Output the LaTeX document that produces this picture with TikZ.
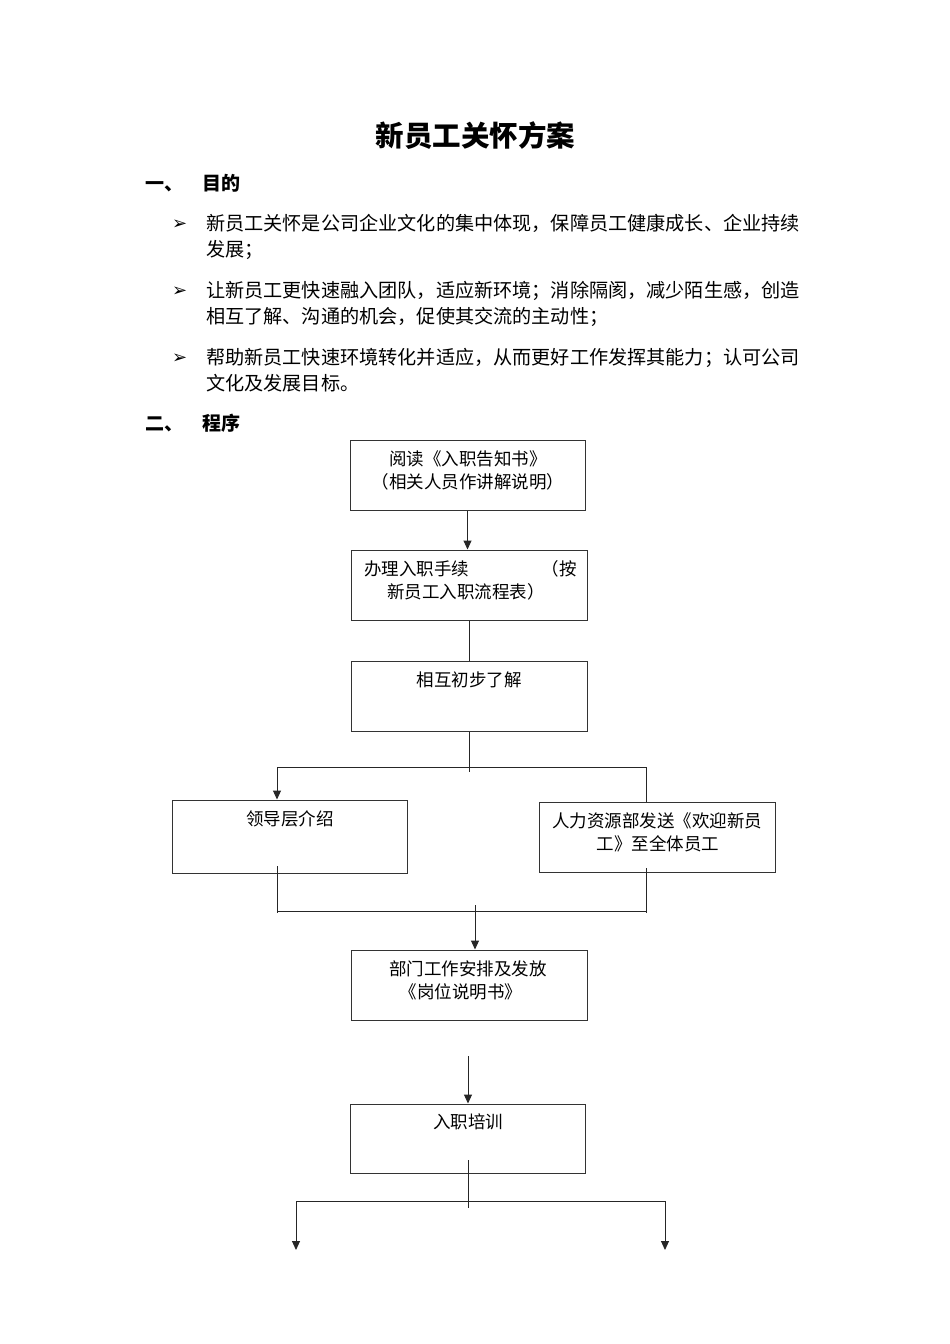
\documentclass[tikz,border=0pt]{standalone}
\usepackage{fontspec}
\newfontfamily\cjk{Noto Sans CJK SC}
\newfontfamily\dejavu{DejaVu Sans}
\usetikzlibrary{arrows.meta}
\begin{document}
\begin{tikzpicture}[x=1pt,y=-1pt,
  box/.style={draw=black!80, line width=1pt, inner sep=0, minimum width=235pt, minimum height=70pt},
  btxt/.style={anchor=base, inner sep=0, font=\cjk\fontsize{17.5}{23}\selectfont},
  ptxt/.style={anchor=base west, inner sep=0, font=\cjk\fontsize{19.15}{26}\selectfont},
  htxt/.style={anchor=base west, inner sep=0, font=\cjk\bfseries\fontsize{19}{26}\selectfont},
  bul/.style={anchor=base west, inner sep=0, font=\dejavu\fontsize{18}{20}\selectfont},
  ln/.style={draw=black!85, line width=1pt},
  arr/.style={ln, -{Triangle[length=9pt,width=8pt]}}
]
\fill[white] (0,0) rectangle (950,1344);
\useasboundingbox (0,0) rectangle (950,1344);

% title
\node[anchor=base, inner sep=0, font=\cjk\bfseries\fontsize{28.5}{32}\selectfont] (title) at (475.5,146.5) {新员工关怀方案};

% section one
\node[htxt] (h1a) at (145,190) {一、};
\node[htxt] (h1b) at (202,190) {目的};

\node[bul] (u1) at (172,229) {➢};
\node[ptxt] (p1a) at (206,230) {新员工关怀是公司企业文化的集中体现，保障员工健康成长、企业持续};
\node[ptxt] (p1b) at (206,256) {发展；};
\node[bul] (u2) at (172,296) {➢};
\node[ptxt] (p2a) at (206,297) {让新员工更快速融入团队，适应新环境；消除隔阂，减少陌生感，创造};
\node[ptxt] (p2b) at (206,323) {相互了解、沟通的机会，促使其交流的主动性；};
\node[bul] (u3) at (172,363) {➢};
\node[ptxt] (p3a) at (206,364) {帮助新员工快速环境转化并适应，从而更好工作发挥其能力；认可公司};
\node[ptxt] (p3b) at (206,390) {文化及发展目标。};

% section two
\node[htxt] (h2a) at (145,430) {二、};
\node[htxt] (h2b) at (202,430) {程序};

% boxes
\node[box] (b1) at (467.5,475) {};
\node[btxt] (t1a) at (468,465.7) {阅读《入职告知书》};
\node[btxt] (t1b) at (468,488.7) {（相关人员作讲解说明）};

\node[box, minimum width=236pt] (b2) at (469,585) {};
\node[btxt, anchor=base west] (t2a) at (364,575.7) {办理入职手续};
\node[btxt, anchor=base east] (t2b) at (577,575.7) {（按};
\node[btxt] (t2c) at (466,598.7) {新员工入职流程表）};

\node[box, minimum width=236pt] (b3) at (469,696) {};
\node[btxt] (t3) at (469,686.7) {相互初步了解};

\node[box, minimum height=73pt] (b4) at (289.5,836.5) {};
\node[btxt] (t4) at (290,825.7) {领导层介绍};

\node[box, minimum width=236pt] (b5) at (657,837) {};
\node[btxt] (t5a) at (657,827.7) {人力资源部发送《欢迎新员};
\node[btxt] (t5b) at (658,850.7) {工》至全体员工};

\node[box, minimum width=236pt] (b6) at (469,985) {};
\node[btxt] (t6a) at (468,975.7) {部门工作安排及发放};
\node[btxt] (t6b) at (461,998.7) {《岗位说明书》};

\node[box, minimum height=69pt] (b7) at (467.5,1138.5) {};
\node[btxt] (t7) at (468,1128.7) {入职培训};

% connectors
\draw[arr] (b1.south) -- (b1.south |- b2.north);
\draw[ln] (b2.south -| b3.north) -- (b3.north);

\coordinate (m3) at (469,772);
\coordinate (jL) at (277,767);
\coordinate (jR) at (646,767);
\draw[ln] (b3.south) -- (m3);
\draw[ln] (jL) -- (jR);
\draw[arr] (jL) -- (jL |- b4.north);
\draw[ln] (jR) -- (jR |- b5.north);

\coordinate (s4) at (277,866);
\coordinate (e4) at (277,913);
\coordinate (s5) at (646,868);
\coordinate (e5) at (646,913);
\coordinate (kL) at (277,911);
\coordinate (kR) at (646,911);
\coordinate (km) at (475,905);
\draw[ln] (s4) -- (e4);
\draw[ln] (s5) -- (e5);
\draw[ln] (kL) -- (kR);
\draw[arr] (km) -- (km |- b6.north);

\coordinate (s6) at (468,1056);
\draw[arr] (s6) -- (s6 |- b7.north);

\coordinate (s7) at (468,1160);
\coordinate (e7) at (468,1208);
\coordinate (nL) at (296,1201);
\coordinate (nR) at (665,1201);
\coordinate (fL) at (296,1250);
\coordinate (fR) at (665,1250);
\draw[ln] (s7) -- (e7);
\draw[ln] (nL) -- (nR);
\draw[arr] (nL) -- (fL);
\draw[arr] (nR) -- (fR);
\end{tikzpicture}
\end{document}
